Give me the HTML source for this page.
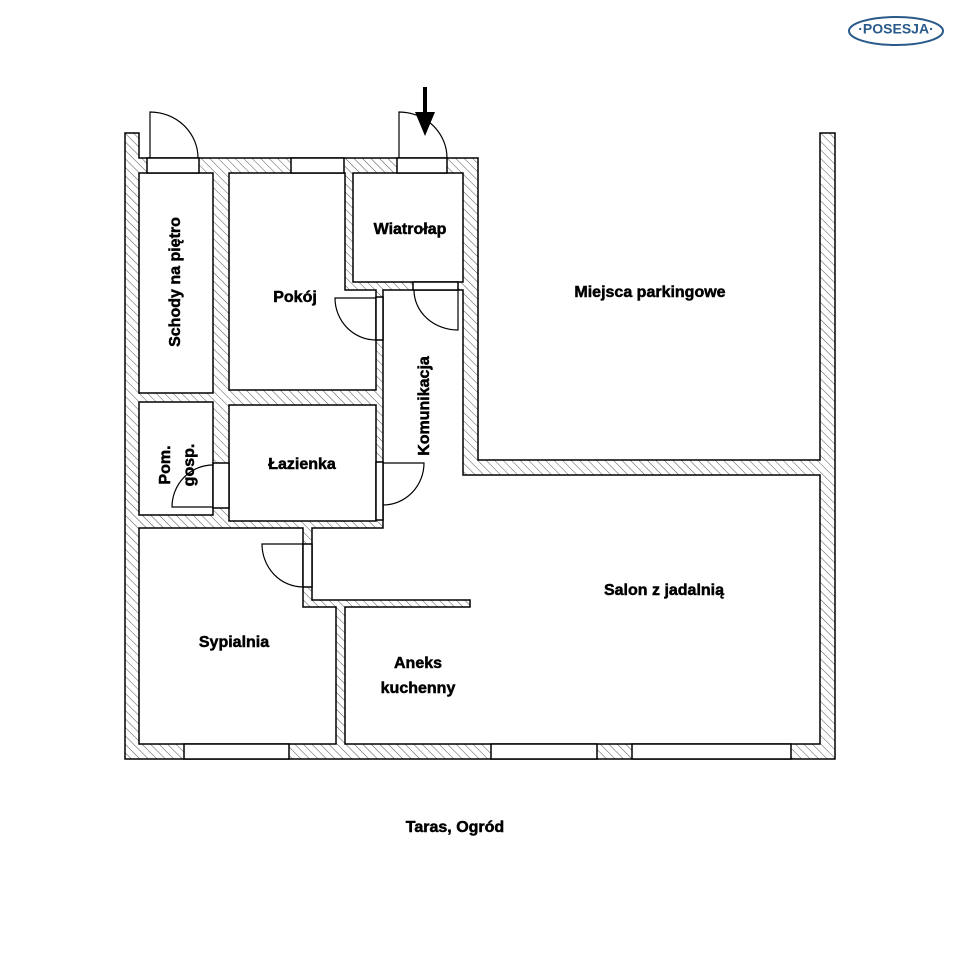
<!DOCTYPE html>
<html><head><meta charset="utf-8"><style>
html,body{margin:0;padding:0;background:#fff}
svg{display:block}
text{font-family:"Liberation Sans",Arial,sans-serif;font-weight:bold;font-size:16px;fill:#000;stroke:#000;stroke-width:0.5;text-anchor:middle;dominant-baseline:middle}
</style></head><body>
<svg width="960" height="960" viewBox="0 0 960 960" xmlns="http://www.w3.org/2000/svg">
<defs>
<pattern id="h" width="6" height="6" patternUnits="userSpaceOnUse" patternTransform="rotate(-45)">
<rect width="6" height="6" fill="#fff"/><line x1="0" y1="0" x2="0" y2="6" stroke="#555" stroke-width="1"/>
</pattern>
</defs>
<g stroke="#000" stroke-width="1.5">
<polygon fill="url(#h)" points="125,133 139,133 139,158 478,158 478,460 820,460 820,133 835,133 835,759 125,759"/>
<rect fill="#fff" x="139" y="173" width="74" height="220"/>
<polygon fill="#fff" points="229,173 345,173 345,290 376,290 376,390 229,390"/>
<rect fill="#fff" x="353" y="173" width="110" height="109"/>
<rect fill="#fff" x="139" y="402" width="74" height="113"/>
<rect fill="#fff" x="229" y="405" width="147" height="116"/>
<polygon fill="#fff" points="139,528 303,528 303,607 336,607 336,744 139,744"/>
<polygon fill="#fff" points="383,290 463,290 463,475 820,475 820,744 345,744 345,607 470,607 470,600 312,600 312,528 383,528"/>
<rect fill="#fff" x="147" y="158" width="52" height="15"/>
<rect fill="#fff" x="291" y="158" width="53" height="15"/>
<rect fill="#fff" x="397" y="158" width="50" height="15"/>
<rect fill="#fff" x="413" y="282" width="45" height="8"/>
<rect fill="#fff" x="376" y="297" width="7" height="43"/>
<rect fill="#fff" x="376" y="462" width="7" height="58"/>
<rect fill="#fff" x="213" y="463" width="16" height="45"/>
<rect fill="#fff" x="303" y="544" width="9" height="43"/>
<rect fill="#fff" x="184" y="744" width="105" height="15"/>
<rect fill="#fff" x="491" y="744" width="106" height="15"/>
<rect fill="#fff" x="632" y="744" width="159" height="15"/>
</g>
<g stroke="#000" stroke-width="1.2" fill="none">
<path d="M150,158 V112 A48,46 0 0 1 198,158"/>
<path d="M399,158 V112 A48,46 0 0 1 447,158"/>
<path d="M458,290 V330 A44,40 0 0 1 414,290"/>
<path d="M376,298 H335 A41,42 0 0 0 376,340"/>
<path d="M383,463 H424 A41,42 0 0 1 383,505"/>
<path d="M213,507 H172 A41,42 0 0 1 213,465"/>
<path d="M303,544 H262 A41,43 0 0 0 303,587"/>
</g>
<line x1="425" y1="87" x2="425" y2="115" stroke="#000" stroke-width="4"/>
<polygon points="415,112 435,112 425,136" fill="#000"/>
<text transform="translate(176,282) rotate(-90)">Schody na piętro</text>
<text x="295" y="298">Pokój</text>
<text x="410" y="230">Wiatrołap</text>
<text x="650" y="293">Miejsca parkingowe</text>
<text transform="translate(425,406) rotate(-90)">Komunikacja</text>
<text transform="translate(166,465) rotate(-90)">Pom.</text>
<text transform="translate(190,465) rotate(-90)">gosp.</text>
<text x="302" y="465">Łazienka</text>
<text x="664" y="591">Salon z jadalnią</text>
<text x="234" y="643">Sypialnia</text>
<text x="418" y="664">Aneks</text>
<text x="418" y="689">kuchenny</text>
<text x="455" y="828">Taras, Ogród</text>
<ellipse cx="896" cy="31" rx="47" ry="14" fill="none" stroke="#2a5a8a" stroke-width="2"/>
<text x="896" y="30" style="font-size:14px;fill:#2a5a8a;stroke:none">·POSESJA·</text>
</svg>
</body></html>
